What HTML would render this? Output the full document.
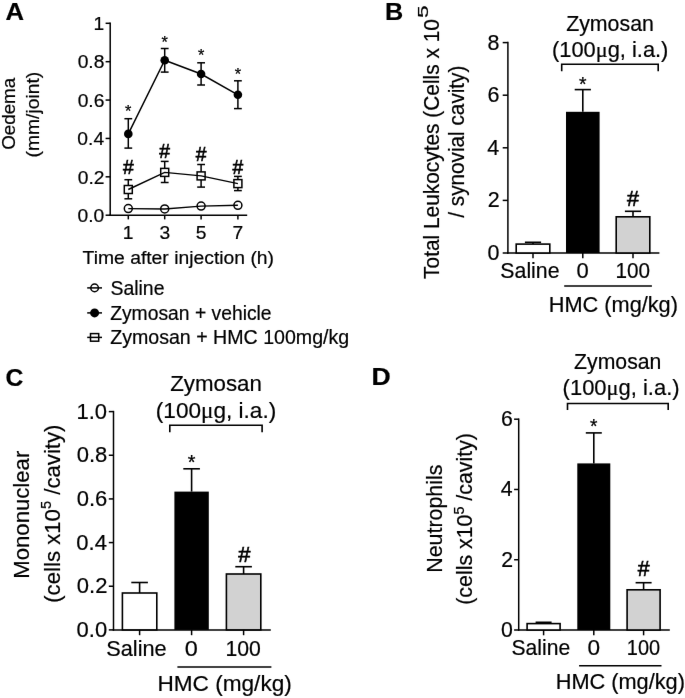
<!DOCTYPE html>
<html lang="en"><head><meta charset="utf-8"><title>Figure</title>
<style>
html,body{margin:0;padding:0;background:#fff;}
svg{display:block;}
text{font-family:"Liberation Sans", Arial, sans-serif;fill:#000;stroke:#000;}
</style></head><body>
<svg width="685" height="698" viewBox="0 0 685 698">
<defs><filter id="soft" x="-20" y="-20" width="725" height="738" filterUnits="userSpaceOnUse" color-interpolation-filters="sRGB">
<feConvolveMatrix order="3" kernelMatrix="0.0016 0.0371 0.0016 0.0371 0.8450 0.0371 0.0016 0.0371 0.0016" edgeMode="duplicate" preserveAlpha="true"/>
</filter></defs>
<g filter="url(#soft)">
<rect x="-30" y="-30" width="745" height="758" fill="#fff"/>
<text x="5.56" y="20.2" font-size="24.5" stroke-width="0.2" font-weight="bold" textLength="18.54" lengthAdjust="spacingAndGlyphs">A</text>
<line x1="110.2" y1="22.55" x2="110.2" y2="215.95" stroke="#000" stroke-width="1.5"/>
<line x1="109.45" y1="215.2" x2="247.2" y2="215.2" stroke="#000" stroke-width="1.5"/>
<line x1="105.6" y1="215.2" x2="110.2" y2="215.2" stroke="#000" stroke-width="1.5"/>
<text x="77.55" y="221.9" font-size="18.7" stroke-width="0.2" textLength="26.78" lengthAdjust="spacingAndGlyphs">0.0</text>
<line x1="105.6" y1="176.82" x2="110.2" y2="176.82" stroke="#000" stroke-width="1.5"/>
<text x="77.79" y="183.52" font-size="18.7" stroke-width="0.2" textLength="26.78" lengthAdjust="spacingAndGlyphs">0.2</text>
<line x1="105.6" y1="138.44" x2="110.2" y2="138.44" stroke="#000" stroke-width="1.5"/>
<text x="77.36" y="145.14" font-size="18.7" stroke-width="0.2" textLength="26.78" lengthAdjust="spacingAndGlyphs">0.4</text>
<line x1="105.6" y1="100.06" x2="110.2" y2="100.06" stroke="#000" stroke-width="1.5"/>
<text x="77.65" y="106.76" font-size="18.7" stroke-width="0.2" textLength="26.78" lengthAdjust="spacingAndGlyphs">0.6</text>
<line x1="105.6" y1="61.68" x2="110.2" y2="61.68" stroke="#000" stroke-width="1.5"/>
<text x="77.65" y="68.38" font-size="18.7" stroke-width="0.2" textLength="26.78" lengthAdjust="spacingAndGlyphs">0.8</text>
<line x1="105.6" y1="23.3" x2="110.2" y2="23.3" stroke="#000" stroke-width="1.5"/>
<text x="93.43" y="30" font-size="18.7" stroke-width="0.2" textLength="10.71" lengthAdjust="spacingAndGlyphs">1</text>
<line x1="128.3" y1="215.2" x2="128.3" y2="219.4" stroke="#000" stroke-width="1.5"/>
<text x="122.69" y="239.2" font-size="18.7" stroke-width="0.2" textLength="10.71" lengthAdjust="spacingAndGlyphs">1</text>
<line x1="164.7" y1="215.2" x2="164.7" y2="219.4" stroke="#000" stroke-width="1.5"/>
<text x="159.4" y="239.2" font-size="18.7" stroke-width="0.2" textLength="10.71" lengthAdjust="spacingAndGlyphs">3</text>
<line x1="201.1" y1="215.2" x2="201.1" y2="219.4" stroke="#000" stroke-width="1.5"/>
<text x="195.76" y="239.2" font-size="18.7" stroke-width="0.2" textLength="10.71" lengthAdjust="spacingAndGlyphs">5</text>
<line x1="237.9" y1="215.2" x2="237.9" y2="219.4" stroke="#000" stroke-width="1.5"/>
<text x="232.53" y="239.2" font-size="18.7" stroke-width="0.2" textLength="10.71" lengthAdjust="spacingAndGlyphs">7</text>
<text x="82.57" y="263.8" font-size="18.7" stroke-width="0.2" textLength="191.46" lengthAdjust="spacingAndGlyphs">Time after injection (h)</text>
<text x="15.3" y="149.79" font-size="18.7" stroke-width="0.2" textLength="72" lengthAdjust="spacingAndGlyphs" transform="rotate(-90 15.3 149.79)">Oedema</text>
<text x="38.6" y="157.51" font-size="18.7" stroke-width="0.2" textLength="85.8" lengthAdjust="spacingAndGlyphs" transform="rotate(-90 38.6 157.51)">(mm/joint)</text>
<line x1="128.3" y1="118.7" x2="128.3" y2="148.1" stroke="#000" stroke-width="1.5"/>
<line x1="124.4" y1="118.7" x2="132.2" y2="118.7" stroke="#000" stroke-width="1.5"/>
<line x1="124.4" y1="148.1" x2="132.2" y2="148.1" stroke="#000" stroke-width="1.5"/>
<line x1="164.7" y1="48.5" x2="164.7" y2="72.1" stroke="#000" stroke-width="1.5"/>
<line x1="160.8" y1="48.5" x2="168.6" y2="48.5" stroke="#000" stroke-width="1.5"/>
<line x1="160.8" y1="72.1" x2="168.6" y2="72.1" stroke="#000" stroke-width="1.5"/>
<line x1="201.1" y1="62.8" x2="201.1" y2="85" stroke="#000" stroke-width="1.5"/>
<line x1="197.2" y1="62.8" x2="205" y2="62.8" stroke="#000" stroke-width="1.5"/>
<line x1="197.2" y1="85" x2="205" y2="85" stroke="#000" stroke-width="1.5"/>
<line x1="237.9" y1="80.8" x2="237.9" y2="108.6" stroke="#000" stroke-width="1.5"/>
<line x1="234" y1="80.8" x2="241.8" y2="80.8" stroke="#000" stroke-width="1.5"/>
<line x1="234" y1="108.6" x2="241.8" y2="108.6" stroke="#000" stroke-width="1.5"/>
<line x1="128.3" y1="179.7" x2="128.3" y2="198.8" stroke="#000" stroke-width="1.5"/>
<line x1="124.4" y1="179.7" x2="132.2" y2="179.7" stroke="#000" stroke-width="1.5"/>
<line x1="124.4" y1="198.8" x2="132.2" y2="198.8" stroke="#000" stroke-width="1.5"/>
<line x1="164.7" y1="161.4" x2="164.7" y2="182.5" stroke="#000" stroke-width="1.5"/>
<line x1="160.8" y1="161.4" x2="168.6" y2="161.4" stroke="#000" stroke-width="1.5"/>
<line x1="160.8" y1="182.5" x2="168.6" y2="182.5" stroke="#000" stroke-width="1.5"/>
<line x1="201.1" y1="164.5" x2="201.1" y2="187.1" stroke="#000" stroke-width="1.5"/>
<line x1="197.2" y1="164.5" x2="205" y2="164.5" stroke="#000" stroke-width="1.5"/>
<line x1="197.2" y1="187.1" x2="205" y2="187.1" stroke="#000" stroke-width="1.5"/>
<line x1="237.9" y1="176.4" x2="237.9" y2="190.6" stroke="#000" stroke-width="1.5"/>
<line x1="234" y1="176.4" x2="241.8" y2="176.4" stroke="#000" stroke-width="1.5"/>
<line x1="234" y1="190.6" x2="241.8" y2="190.6" stroke="#000" stroke-width="1.5"/>
<circle cx="128.3" cy="208.6" r="4.0" fill="#fff" stroke="#000" stroke-width="1.5"/>
<circle cx="164.7" cy="208.9" r="4.0" fill="#fff" stroke="#000" stroke-width="1.5"/>
<circle cx="201.1" cy="206.1" r="4.0" fill="#fff" stroke="#000" stroke-width="1.5"/>
<circle cx="237.9" cy="205.3" r="4.0" fill="#fff" stroke="#000" stroke-width="1.5"/>
<rect x="124.3" y="185.5" width="8" height="8" fill="#fff" stroke="#000" stroke-width="1.5"/>
<rect x="160.7" y="168.4" width="8" height="8" fill="#fff" stroke="#000" stroke-width="1.5"/>
<rect x="197.1" y="171.9" width="8" height="8" fill="#fff" stroke="#000" stroke-width="1.5"/>
<rect x="233.9" y="179.6" width="8" height="8" fill="#fff" stroke="#000" stroke-width="1.5"/>
<polyline fill="none" stroke="#000" stroke-width="1.45" points="128.3,208.6 164.7,208.9 201.1,206.1 237.9,205.3"/>
<polyline fill="none" stroke="#000" stroke-width="1.45" points="128.3,189.5 164.7,172.4 201.1,175.9 237.9,183.6"/>
<polyline fill="none" stroke="#000" stroke-width="1.45" points="128.3,133.9 164.7,60.2 201.1,74 237.9,94.8"/>
<circle cx="128.3" cy="133.9" r="4.3" fill="#000"/>
<circle cx="164.7" cy="60.2" r="4.3" fill="#000"/>
<circle cx="201.1" cy="74.0" r="4.3" fill="#000"/>
<circle cx="237.9" cy="94.8" r="4.3" fill="#000"/>
<text x="125.11" y="116.6" font-size="15.89" stroke-width="0.25" textLength="6.37" lengthAdjust="spacingAndGlyphs">*</text>
<text x="161.51" y="48.4" font-size="15.89" stroke-width="0.25" textLength="6.37" lengthAdjust="spacingAndGlyphs">*</text>
<text x="197.91" y="61.2" font-size="15.89" stroke-width="0.25" textLength="6.37" lengthAdjust="spacingAndGlyphs">*</text>
<text x="234.71" y="80.1" font-size="15.89" stroke-width="0.25" textLength="6.37" lengthAdjust="spacingAndGlyphs">*</text>
<text x="122.92" y="174" font-size="19.3" stroke-width="0.6" textLength="10.73" lengthAdjust="spacingAndGlyphs">#</text>
<text x="159.32" y="158.2" font-size="19.3" stroke-width="0.6" textLength="10.73" lengthAdjust="spacingAndGlyphs">#</text>
<text x="195.72" y="161.3" font-size="19.3" stroke-width="0.6" textLength="10.73" lengthAdjust="spacingAndGlyphs">#</text>
<text x="232.52" y="174" font-size="19.3" stroke-width="0.6" textLength="10.73" lengthAdjust="spacingAndGlyphs">#</text>
<line x1="87.2" y1="287.9" x2="102" y2="287.9" stroke="#000" stroke-width="1.5"/>
<line x1="87.2" y1="312.9" x2="102" y2="312.9" stroke="#000" stroke-width="1.5"/>
<line x1="87.2" y1="337.4" x2="102" y2="337.4" stroke="#000" stroke-width="1.5"/>
<circle cx="94.6" cy="287.9" r="3.8" fill="none" stroke="#000" stroke-width="1.5"/>
<circle cx="94.6" cy="312.9" r="4.5" fill="#000"/>
<rect x="90.5" y="333.6" width="8.2" height="7.6" fill="none" stroke="#000" stroke-width="1.5"/>
<text x="110.43" y="294.9" font-size="19.3" stroke-width="0.2" textLength="54.05" lengthAdjust="spacingAndGlyphs">Saline</text>
<text x="110.17" y="319.6" font-size="19.3" stroke-width="0.2" textLength="161.45" lengthAdjust="spacingAndGlyphs">Zymosan + vehicle</text>
<text x="110.16" y="344.1" font-size="19.3" stroke-width="0.2" textLength="239.09" lengthAdjust="spacingAndGlyphs">Zymosan + HMC 100mg/kg</text>
<text x="384.9" y="19.9" font-size="24.5" stroke-width="0.2" font-weight="bold" textLength="18.23" lengthAdjust="spacingAndGlyphs">B</text>
<line x1="507.9" y1="41.85" x2="507.9" y2="253.75" stroke="#000" stroke-width="1.5"/>
<line x1="507.15" y1="253" x2="659.4" y2="253" stroke="#000" stroke-width="1.5"/>
<line x1="502.7" y1="253" x2="507.9" y2="253" stroke="#000" stroke-width="1.5"/>
<text x="487.47" y="259.92" font-size="21.5" stroke-width="0.2" textLength="11.96" lengthAdjust="spacingAndGlyphs">0</text>
<line x1="502.7" y1="200.4" x2="507.9" y2="200.4" stroke="#000" stroke-width="1.5"/>
<text x="487.74" y="207.32" font-size="21.5" stroke-width="0.2" textLength="11.96" lengthAdjust="spacingAndGlyphs">2</text>
<line x1="502.7" y1="147.8" x2="507.9" y2="147.8" stroke="#000" stroke-width="1.5"/>
<text x="487.26" y="154.72" font-size="21.5" stroke-width="0.2" textLength="11.96" lengthAdjust="spacingAndGlyphs">4</text>
<line x1="502.7" y1="95.2" x2="507.9" y2="95.2" stroke="#000" stroke-width="1.5"/>
<text x="487.58" y="102.12" font-size="21.5" stroke-width="0.2" textLength="11.96" lengthAdjust="spacingAndGlyphs">6</text>
<line x1="502.7" y1="42.6" x2="507.9" y2="42.6" stroke="#000" stroke-width="1.5"/>
<text x="487.58" y="49.52" font-size="21.5" stroke-width="0.2" textLength="11.96" lengthAdjust="spacingAndGlyphs">8</text>
<line x1="533" y1="242.3" x2="533" y2="244.1" stroke="#000" stroke-width="1.6"/>
<line x1="524.9" y1="242.3" x2="541.1" y2="242.3" stroke="#000" stroke-width="1.6"/>
<rect x="516.2" y="244.1" width="33.6" height="8.9" fill="#fff" stroke="#000" stroke-width="1.6"/>
<line x1="533" y1="253" x2="533" y2="258.3" stroke="#000" stroke-width="1.5"/>
<line x1="582.8" y1="89.6" x2="582.8" y2="111.8" stroke="#000" stroke-width="1.6"/>
<line x1="574.7" y1="89.6" x2="590.9" y2="89.6" stroke="#000" stroke-width="1.6"/>
<rect x="566" y="111.8" width="33.6" height="141.2" fill="#000"/>
<line x1="582.8" y1="253" x2="582.8" y2="258.3" stroke="#000" stroke-width="1.5"/>
<line x1="633" y1="211.3" x2="633" y2="216.8" stroke="#000" stroke-width="1.6"/>
<line x1="624.9" y1="211.3" x2="641.1" y2="211.3" stroke="#000" stroke-width="1.6"/>
<rect x="616.2" y="216.8" width="33.6" height="36.2" fill="#d2d2d2" stroke="#000" stroke-width="1.6"/>
<line x1="633" y1="253" x2="633" y2="258.3" stroke="#000" stroke-width="1.5"/>
<text x="500.34" y="278.3" font-size="21.5" stroke-width="0.2" textLength="59.21" lengthAdjust="spacingAndGlyphs">Saline</text>
<text x="576.52" y="278.3" font-size="21.5" stroke-width="0.2" textLength="12.23" lengthAdjust="spacingAndGlyphs">0</text>
<text x="615.55" y="278.3" font-size="21.5" stroke-width="0.2" textLength="34.55" lengthAdjust="spacingAndGlyphs">100</text>
<line x1="564.2" y1="286.1" x2="651.9" y2="286.1" stroke="#000" stroke-width="1.5"/>
<text x="548.81" y="312.2" font-size="21.5" stroke-width="0.2" textLength="129.14" lengthAdjust="spacingAndGlyphs">HMC (mg/kg)</text>
<text x="566.21" y="30.8" font-size="21.5" stroke-width="0.2" textLength="87.63" lengthAdjust="spacingAndGlyphs">Zymosan</text>
<text x="552.03" y="57" font-size="21.5" stroke-width="0.2" textLength="43.72" lengthAdjust="spacingAndGlyphs">(100</text>
<text x="595.75" y="57" font-size="21.93" stroke-width="0.2" style='font-family:"Liberation Serif", "DejaVu Serif", serif' textLength="11.94" lengthAdjust="spacingAndGlyphs">μ</text>
<text x="607.7" y="57" font-size="21.5" stroke-width="0.2" textLength="60.7" lengthAdjust="spacingAndGlyphs">g, i.a.)</text>
<polyline fill="none" stroke="#000" stroke-width="1.6" points="561.7,71.2 561.7,64.2 658.2,64.2 658.2,71.2"/>
<text x="579.03" y="90.73" font-size="19.35" stroke-width="0.25" textLength="7.53" lengthAdjust="spacingAndGlyphs">*</text>
<text x="627.01" y="205.8" font-size="21.5" stroke-width="0.6" textLength="11.96" lengthAdjust="spacingAndGlyphs">#</text>
<text x="439.2" y="278.87" font-size="21.5" stroke-width="0.2" textLength="259.76" lengthAdjust="spacingAndGlyphs" transform="rotate(-90 439.2 278.87)">Total Leukocytes (Cells x 10</text>
<text x="428.4" y="17.91" font-size="14.5" stroke-width="0.2" textLength="12.65" lengthAdjust="spacingAndGlyphs" transform="rotate(-90 428.4 17.91)">5</text>
<text x="464.2" y="217.7" font-size="21.5" stroke-width="0.2" textLength="152.11" lengthAdjust="spacingAndGlyphs" transform="rotate(-90 464.2 217.7)">/ synovial cavity)</text>
<text x="5.61" y="385.8" font-size="24.5" stroke-width="0.2" font-weight="bold" textLength="17.86" lengthAdjust="spacingAndGlyphs">C</text>
<line x1="113.5" y1="410.85" x2="113.5" y2="630.65" stroke="#000" stroke-width="1.5"/>
<line x1="112.75" y1="629.9" x2="270.8" y2="629.9" stroke="#000" stroke-width="1.5"/>
<line x1="108.8" y1="629.9" x2="113.5" y2="629.9" stroke="#000" stroke-width="1.5"/>
<text x="76.55" y="636.99" font-size="22" stroke-width="0.2" textLength="30.58" lengthAdjust="spacingAndGlyphs">0.0</text>
<line x1="108.8" y1="586.24" x2="113.5" y2="586.24" stroke="#000" stroke-width="1.5"/>
<text x="76.82" y="593.33" font-size="22" stroke-width="0.2" textLength="30.58" lengthAdjust="spacingAndGlyphs">0.2</text>
<line x1="108.8" y1="542.58" x2="113.5" y2="542.58" stroke="#000" stroke-width="1.5"/>
<text x="76.33" y="549.67" font-size="22" stroke-width="0.2" textLength="30.58" lengthAdjust="spacingAndGlyphs">0.4</text>
<line x1="108.8" y1="498.92" x2="113.5" y2="498.92" stroke="#000" stroke-width="1.5"/>
<text x="76.66" y="506.01" font-size="22" stroke-width="0.2" textLength="30.58" lengthAdjust="spacingAndGlyphs">0.6</text>
<line x1="108.8" y1="455.26" x2="113.5" y2="455.26" stroke="#000" stroke-width="1.5"/>
<text x="76.66" y="462.35" font-size="22" stroke-width="0.2" textLength="30.58" lengthAdjust="spacingAndGlyphs">0.8</text>
<line x1="108.8" y1="411.6" x2="113.5" y2="411.6" stroke="#000" stroke-width="1.5"/>
<text x="76.54" y="418.69" font-size="22" stroke-width="0.2" textLength="30.58" lengthAdjust="spacingAndGlyphs">1.0</text>
<line x1="139.6" y1="582.5" x2="139.6" y2="593" stroke="#000" stroke-width="1.6"/>
<line x1="131.3" y1="582.5" x2="147.9" y2="582.5" stroke="#000" stroke-width="1.6"/>
<rect x="122.4" y="593" width="34.4" height="36.9" fill="#fff" stroke="#000" stroke-width="1.6"/>
<line x1="139.6" y1="629.9" x2="139.6" y2="635.2" stroke="#000" stroke-width="1.5"/>
<line x1="191.6" y1="468.8" x2="191.6" y2="491.6" stroke="#000" stroke-width="1.6"/>
<line x1="183.3" y1="468.8" x2="199.9" y2="468.8" stroke="#000" stroke-width="1.6"/>
<rect x="174.4" y="491.6" width="34.4" height="138.3" fill="#000"/>
<line x1="191.6" y1="629.9" x2="191.6" y2="635.2" stroke="#000" stroke-width="1.5"/>
<line x1="243.6" y1="566.7" x2="243.6" y2="574" stroke="#000" stroke-width="1.6"/>
<line x1="235.3" y1="566.7" x2="251.9" y2="566.7" stroke="#000" stroke-width="1.6"/>
<rect x="226.4" y="574" width="34.4" height="55.9" fill="#d2d2d2" stroke="#000" stroke-width="1.6"/>
<line x1="243.6" y1="629.9" x2="243.6" y2="635.2" stroke="#000" stroke-width="1.5"/>
<text x="106.32" y="655.8" font-size="22" stroke-width="0.2" textLength="60.35" lengthAdjust="spacingAndGlyphs">Saline</text>
<text x="184.76" y="655.8" font-size="22" stroke-width="0.2" textLength="13.05" lengthAdjust="spacingAndGlyphs">0</text>
<text x="225.41" y="655.8" font-size="22" stroke-width="0.2" textLength="35.41" lengthAdjust="spacingAndGlyphs">100</text>
<line x1="177.4" y1="666.9" x2="271.4" y2="666.9" stroke="#000" stroke-width="1.5"/>
<text x="157.44" y="690.8" font-size="22" stroke-width="0.2" textLength="134.37" lengthAdjust="spacingAndGlyphs">HMC (mg/kg)</text>
<text x="170.28" y="391" font-size="22" stroke-width="0.2" textLength="91.63" lengthAdjust="spacingAndGlyphs">Zymosan</text>
<text x="155.79" y="417.7" font-size="22" stroke-width="0.2" textLength="45.26" lengthAdjust="spacingAndGlyphs">(100</text>
<text x="201.04" y="417.7" font-size="22.44" stroke-width="0.2" style='font-family:"Liberation Serif", "DejaVu Serif", serif' textLength="12.37" lengthAdjust="spacingAndGlyphs">μ</text>
<text x="213.41" y="417.7" font-size="22" stroke-width="0.2" textLength="62.84" lengthAdjust="spacingAndGlyphs">g, i.a.)</text>
<polyline fill="none" stroke="#000" stroke-width="1.6" points="169.8,432.2 169.8,425.3 262.1,425.3 262.1,432.2"/>
<text x="187.74" y="468.86" font-size="19.8" stroke-width="0.25" textLength="7.71" lengthAdjust="spacingAndGlyphs">*</text>
<text x="238.27" y="561.6" font-size="22" stroke-width="0.6" textLength="12.24" lengthAdjust="spacingAndGlyphs">#</text>
<text x="28.6" y="578.73" font-size="22" stroke-width="0.2" textLength="127.99" lengthAdjust="spacingAndGlyphs" transform="rotate(-90 28.6 578.73)">Mononuclear</text>
<text x="59.6" y="602.79" font-size="22" stroke-width="0.2" textLength="93.71" lengthAdjust="spacingAndGlyphs" transform="rotate(-90 59.6 602.79)">(cells x10</text>
<text x="51.4" y="509.08" font-size="14.5" stroke-width="0.2" textLength="8.13" lengthAdjust="spacingAndGlyphs" transform="rotate(-90 51.4 509.08)">5</text>
<text x="59.6" y="500.94" font-size="22" stroke-width="0.2" textLength="76.43" lengthAdjust="spacingAndGlyphs" transform="rotate(-90 59.6 500.94)">&#160;/cavity)</text>
<text x="371.4" y="385" font-size="24.5" stroke-width="0.2" font-weight="bold" textLength="19.22" lengthAdjust="spacingAndGlyphs">D</text>
<line x1="518.7" y1="418.45" x2="518.7" y2="630.75" stroke="#000" stroke-width="1.5"/>
<line x1="517.95" y1="630" x2="669.8" y2="630" stroke="#000" stroke-width="1.5"/>
<line x1="514.1" y1="630" x2="518.7" y2="630" stroke="#000" stroke-width="1.5"/>
<text x="500.89" y="636.92" font-size="21.5" stroke-width="0.2" textLength="11.84" lengthAdjust="spacingAndGlyphs">0</text>
<line x1="514.1" y1="559.73" x2="518.7" y2="559.73" stroke="#000" stroke-width="1.5"/>
<text x="501.15" y="566.65" font-size="21.5" stroke-width="0.2" textLength="11.84" lengthAdjust="spacingAndGlyphs">2</text>
<line x1="514.1" y1="489.47" x2="518.7" y2="489.47" stroke="#000" stroke-width="1.5"/>
<text x="500.67" y="496.38" font-size="21.5" stroke-width="0.2" textLength="11.84" lengthAdjust="spacingAndGlyphs">4</text>
<line x1="514.1" y1="419.2" x2="518.7" y2="419.2" stroke="#000" stroke-width="1.5"/>
<text x="500.99" y="426.12" font-size="21.5" stroke-width="0.2" textLength="11.84" lengthAdjust="spacingAndGlyphs">6</text>
<line x1="543.6" y1="622.3" x2="543.6" y2="623.6" stroke="#000" stroke-width="1.6"/>
<line x1="535.6" y1="622.3" x2="551.6" y2="622.3" stroke="#000" stroke-width="1.6"/>
<rect x="527.1" y="623.6" width="33" height="6.4" fill="#fff" stroke="#000" stroke-width="1.6"/>
<line x1="543.6" y1="630" x2="543.6" y2="635.3" stroke="#000" stroke-width="1.5"/>
<line x1="593.8" y1="432.9" x2="593.8" y2="463.4" stroke="#000" stroke-width="1.6"/>
<line x1="585.8" y1="432.9" x2="601.8" y2="432.9" stroke="#000" stroke-width="1.6"/>
<rect x="577.3" y="463.4" width="33" height="166.6" fill="#000"/>
<line x1="593.8" y1="630" x2="593.8" y2="635.3" stroke="#000" stroke-width="1.5"/>
<line x1="643.6" y1="582.7" x2="643.6" y2="589.8" stroke="#000" stroke-width="1.6"/>
<line x1="635.6" y1="582.7" x2="651.6" y2="582.7" stroke="#000" stroke-width="1.6"/>
<rect x="627.1" y="589.8" width="33" height="40.2" fill="#d2d2d2" stroke="#000" stroke-width="1.6"/>
<line x1="643.6" y1="630" x2="643.6" y2="635.3" stroke="#000" stroke-width="1.5"/>
<text x="511.55" y="654.6" font-size="21.5" stroke-width="0.2" textLength="58.59" lengthAdjust="spacingAndGlyphs">Saline</text>
<text x="587.5" y="654.6" font-size="21.5" stroke-width="0.2" textLength="12.58" lengthAdjust="spacingAndGlyphs">0</text>
<text x="626.8" y="654.6" font-size="21.5" stroke-width="0.2" textLength="33.26" lengthAdjust="spacingAndGlyphs">100</text>
<line x1="579.1" y1="665.8" x2="661.5" y2="665.8" stroke="#000" stroke-width="1.5"/>
<text x="555.71" y="689.4" font-size="21.5" stroke-width="0.2" textLength="129.24" lengthAdjust="spacingAndGlyphs">HMC (mg/kg)</text>
<text x="574.11" y="369.4" font-size="21.5" stroke-width="0.2" textLength="87.22" lengthAdjust="spacingAndGlyphs">Zymosan</text>
<text x="562.63" y="394.7" font-size="21.5" stroke-width="0.2" textLength="43.95" lengthAdjust="spacingAndGlyphs">(100</text>
<text x="606.58" y="394.7" font-size="21.93" stroke-width="0.2" style='font-family:"Liberation Serif", "DejaVu Serif", serif' textLength="12.01" lengthAdjust="spacingAndGlyphs">μ</text>
<text x="618.58" y="394.7" font-size="21.5" stroke-width="0.2" textLength="61.02" lengthAdjust="spacingAndGlyphs">g, i.a.)</text>
<polyline fill="none" stroke="#000" stroke-width="1.6" points="567.5,410.0 567.5,403.5 668.2,403.5 668.2,410.0"/>
<text x="590.06" y="432.83" font-size="19.35" stroke-width="0.25" textLength="7.46" lengthAdjust="spacingAndGlyphs">*</text>
<text x="637.67" y="575.8" font-size="21.5" stroke-width="0.6" textLength="11.84" lengthAdjust="spacingAndGlyphs">#</text>
<text x="442.2" y="572.76" font-size="21.5" stroke-width="0.2" textLength="108.13" lengthAdjust="spacingAndGlyphs" transform="rotate(-90 442.2 572.76)">Neutrophils</text>
<text x="471.8" y="604.73" font-size="21.5" stroke-width="0.2" textLength="90.14" lengthAdjust="spacingAndGlyphs" transform="rotate(-90 471.8 604.73)">(cells x10</text>
<text x="463.6" y="514.59" font-size="14.5" stroke-width="0.2" textLength="8.01" lengthAdjust="spacingAndGlyphs" transform="rotate(-90 463.6 514.59)">5</text>
<text x="471.8" y="506.59" font-size="21.5" stroke-width="0.2" textLength="73.52" lengthAdjust="spacingAndGlyphs" transform="rotate(-90 471.8 506.59)">&#160;/cavity)</text>
</g>
</svg>
</body></html>
